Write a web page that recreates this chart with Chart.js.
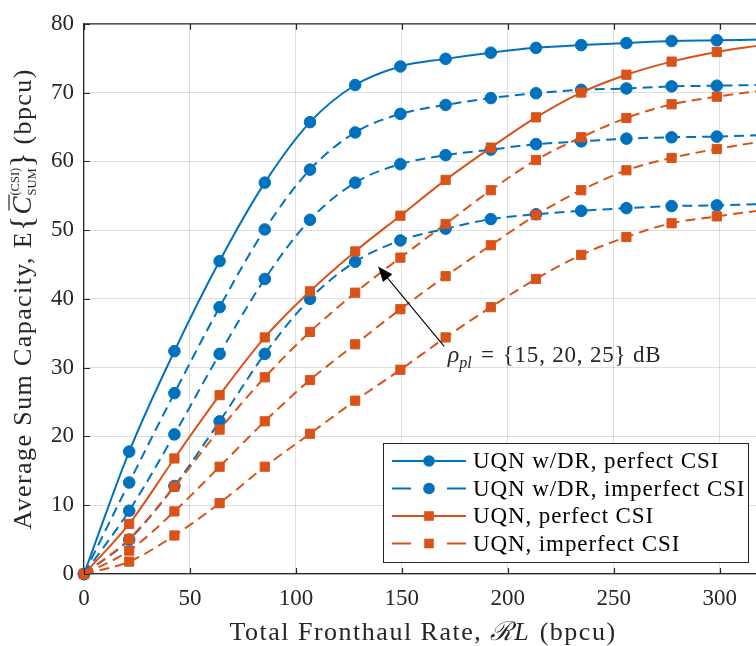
<!DOCTYPE html>
<html lang="en">
<head>
    <meta charset="UTF-8">
    <title>Average Sum Capacity vs Total Fronthaul Rate</title>
    <script src="https://cdn.jsdelivr.net/npm/chart.js"></script>
    <style>
        html, body { margin: 0; padding: 0; background: #fff; overflow: hidden; }
        #wrap { width: 756px; height: 646px; overflow: hidden; }
    </style>
</head>
<body>
    <div id="wrap">
        <canvas id="capacityChart" width="770" height="646"></canvas>
    </div>

    <script>
        // Total fronthaul rate RL (bpcu), one entry per marker
        const rates = [0, 21.33, 42.67, 64, 85.33, 106.67, 128, 149.33, 170.67, 192, 213.33, 234.67, 256, 277.33, 298.67, 320];
        const xTicks = [0, 50, 100, 150, 200, 250, 300];
        const yTicks = [0, 10, 20, 30, 40, 50, 60, 70, 80];

        // UQN w/DR
        const drPerfect     = [0, 17.8, 32.4, 45.5, 56.9, 65.7, 71.1, 73.8, 74.9, 75.8, 76.5, 76.9, 77.2, 77.5, 77.6, 77.7];
        const drImperfect15 = [0, 13.3, 26.3, 38.8, 50.1, 58.8, 64.2, 66.9, 68.2, 69.2, 69.9, 70.4, 70.6, 70.9, 71.0, 71.1];
        const drImperfect20 = [0, 9.2, 20.3, 32.0, 42.9, 51.5, 56.9, 59.6, 60.9, 61.7, 62.5, 62.9, 63.3, 63.5, 63.6, 63.8];
        const drImperfect25 = [0, 5.0, 12.8, 22.2, 32.0, 40.0, 45.4, 48.5, 50.2, 51.6, 52.3, 52.8, 53.2, 53.5, 53.6, 53.8];

        // UQN
        const uqnPerfect     = [0, 7.3, 16.8, 26.0, 34.4, 41.1, 46.9, 52.1, 57.3, 62.0, 66.4, 70.0, 72.6, 74.5, 75.9, 76.9];
        const uqnImperfect15 = [0, 5.1, 12.7, 21.0, 28.6, 35.2, 40.9, 46.0, 50.9, 55.8, 60.2, 63.5, 66.3, 68.3, 69.4, 70.3];
        const uqnImperfect20 = [0, 3.4, 9.1, 15.6, 22.2, 28.2, 33.4, 38.5, 43.3, 47.8, 52.2, 55.8, 58.7, 60.5, 61.8, 62.9];
        const uqnImperfect25 = [0, 1.8, 5.6, 10.3, 15.6, 20.4, 25.2, 29.7, 34.4, 38.8, 42.9, 46.4, 49.0, 51.0, 52.0, 52.9];

        const legendLabels = ['UQN w/DR, perfect CSI', 'UQN w/DR, imperfect CSI', 'UQN, perfect CSI', 'UQN, imperfect CSI'];
        const rhoValues = '{15, 20, 25} dB';

        const BLUE = '#0072BD';
        const ORANGE = '#D95319';
        const INK = '#262626';
        const SERIF = '"Liberation Serif", "Times New Roman", serif';
        const f = (size, style) => (style ? style + ' ' : '') + size + 'px ' + SERIF;

        function series(label, values, color, dashed, marker) {
            return {
                label: label,
                data: rates.map((x, i) => ({ x: x, y: values[i] })),
                borderColor: color,
                backgroundColor: color,
                borderWidth: 2,
                borderDash: dashed ? [10, 6] : [],
                pointStyle: marker,
                pointRadius: marker === 'circle' ? 5.8 : 6.5,
                pointBorderWidth: 1,
                pointBackgroundColor: color,
                pointBorderColor: color,
                cubicInterpolationMode: 'monotone',
                clip: false
            };
        }

        // orange first so it is drawn on top of the blue curves
        const datasets = [
            series(legendLabels[2], uqnPerfect, ORANGE, false, 'rect'),
            series(legendLabels[3], uqnImperfect15, ORANGE, true, 'rect'),
            series(legendLabels[3], uqnImperfect20, ORANGE, true, 'rect'),
            series(legendLabels[3], uqnImperfect25, ORANGE, true, 'rect'),
            series(legendLabels[0], drPerfect, BLUE, false, 'circle'),
            series(legendLabels[1], drImperfect15, BLUE, true, 'circle'),
            series(legendLabels[1], drImperfect20, BLUE, true, 'circle'),
            series(legendLabels[1], drImperfect25, BLUE, true, 'circle')
        ];

        // text made of runs with different fonts (for the math bits)
        function runWidth(ctx, r) {
            if (r.stack) return Math.max(...r.stack.map(s => runWidth(ctx, s)));
            ctx.font = r.font;
            ctx.letterSpacing = '0px';
            return ctx.measureText(r.text).width + (r.ls || 0) * r.text.length + (r.gap || 0);
        }

        function drawRuns(ctx, runs, x, y, align) {
            const widths = runs.map(r => runWidth(ctx, r));
            const total = widths.reduce((a, b) => a + b, 0);
            let cx = align === 'center' ? x - total / 2 : x;
            ctx.textAlign = 'left';
            ctx.textBaseline = 'alphabetic';
            runs.forEach((r, i) => {
                (r.stack || [r]).forEach(s => {
                    ctx.font = s.font;
                    ctx.letterSpacing = (s.ls || 0) + 'px';
                    ctx.fillText(s.text, cx + (s.dx || 0), y + (s.dy || 0));
                });
                if (r.bar) {
                    ctx.save();
                    ctx.strokeStyle = ctx.fillStyle;
                    ctx.lineWidth = 1.2;
                    ctx.beginPath();
                    ctx.moveTo(cx + 4, y - r.bar);
                    ctx.lineTo(cx + widths[i] + 1, y - r.bar);
                    ctx.stroke();
                    ctx.restore();
                }
                cx += widths[i];
            });
            ctx.letterSpacing = '0px';
        }

        function drawMarker(ctx, style, x, y, color) {
            ctx.fillStyle = color;
            ctx.beginPath();
            if (style === 'circle') ctx.arc(x, y, 5.8, 0, Math.PI * 2);
            else ctx.rect(x - 4.8, y - 4.8, 9.6, 9.6);
            ctx.fill();
        }

        const decorations = {
            id: 'decorations',
            afterDraw(chart) {
                const ctx = chart.ctx;
                const area = chart.chartArea;
                const xs = chart.scales.x;
                const ys = chart.scales.y;
                ctx.save();

                // box top edge and inward tick marks
                ctx.strokeStyle = INK;
                ctx.lineWidth = 1.2;
                ctx.beginPath();
                ctx.moveTo(area.left, area.top);
                ctx.lineTo(area.right, area.top);
                ctx.moveTo(area.right, area.top);
                ctx.lineTo(area.right, area.bottom);
                xTicks.forEach(v => {
                    const px = Math.round(xs.getPixelForValue(v)) + 0.5;
                    ctx.moveTo(px, area.bottom); ctx.lineTo(px, area.bottom - 6);
                    ctx.moveTo(px, area.top); ctx.lineTo(px, area.top + 6);
                });
                yTicks.forEach(v => {
                    const py = Math.round(ys.getPixelForValue(v)) + 0.5;
                    ctx.moveTo(area.left, py); ctx.lineTo(area.left + 6, py);
                });
                ctx.stroke();

                // annotation arrow
                const tail = [xs.getPixelForValue(170), ys.getPixelForValue(33.1)];
                const head = [xs.getPixelForValue(138.8), ys.getPixelForValue(44.7)];
                const ang = Math.atan2(head[1] - tail[1], head[0] - tail[0]);
                ctx.strokeStyle = '#000';
                ctx.fillStyle = '#000';
                ctx.lineWidth = 1.1;
                ctx.beginPath();
                ctx.moveTo(tail[0], tail[1]);
                ctx.lineTo(head[0] - 12 * Math.cos(ang), head[1] - 12 * Math.sin(ang));
                ctx.stroke();
                ctx.beginPath();
                ctx.moveTo(head[0], head[1]);
                ctx.lineTo(head[0] - 15 * Math.cos(ang) + 6 * Math.sin(ang), head[1] - 15 * Math.sin(ang) - 6 * Math.cos(ang));
                ctx.lineTo(head[0] - 15 * Math.cos(ang) - 6 * Math.sin(ang), head[1] - 15 * Math.sin(ang) + 6 * Math.cos(ang));
                ctx.closePath();
                ctx.fill();

                ctx.fillStyle = INK;
                drawRuns(ctx, [
                    { text: '\u03C1', font: f(24, 'italic') },
                    { text: 'pl', font: f(16, 'italic'), dy: 6, gap: 2 },
                    { text: ' = ', font: f(23), ls: 1.5 },
                    { text: rhoValues, font: f(23), ls: 0.8 }
                ], xs.getPixelForValue(171.7), ys.getPixelForValue(30.8), 'left');

                // x axis title
                drawRuns(ctx, [
                    { text: 'Total Fronthaul Rate, ', font: f(26), ls: 1.5 },
                    { text: '\u211B', font: f(26, 'italic'), gap: 1 },
                    { text: 'L', font: f(26, 'italic'), gap: 3 },
                    { text: ' (bpcu)', font: f(26), ls: 1.5 }
                ], (area.left + area.right) / 2, 640, 'center');

                // y axis title, rotated
                ctx.save();
                ctx.translate(31, (area.top + area.bottom) / 2);
                ctx.rotate(-Math.PI / 2);
                drawRuns(ctx, [
                    { text: 'Average Sum Capacity, E', font: f(26), ls: 1.4 },
                    { text: '{', font: f(32), dy: 2, gap: 1 },
                    { text: 'C', font: f(27, 'italic'), bar: 22, gap: 1 },
                    { stack: [
                        { text: '(CSI)', font: f(12.5), dy: -12 },
                        { text: 'SUM', font: f(12.5), dy: 5 }
                    ] },
                    { text: '}', font: f(32), dy: 2 },
                    { text: ' (bpcu)', font: f(26), ls: 1.4 }
                ], 0, 0, 'center');
                ctx.restore();

                // legend
                const bw = 365, bh = 119;
                const bx = area.right - 14 - bw;
                const by = area.bottom - 12 - bh;
                ctx.fillStyle = '#fff';
                ctx.fillRect(bx, by, bw, bh);
                ctx.strokeStyle = INK;
                ctx.lineWidth = 1;
                ctx.strokeRect(bx + 0.5, by + 0.5, bw, bh);
                const styles = [
                    { color: BLUE, dashed: false, marker: 'circle' },
                    { color: BLUE, dashed: true, marker: 'circle' },
                    { color: ORANGE, dashed: false, marker: 'rect' },
                    { color: ORANGE, dashed: true, marker: 'rect' }
                ];
                legendLabels.forEach((label, i) => {
                    const st = styles[i];
                    const ly = by + 18 + i * 27.5;
                    ctx.strokeStyle = st.color;
                    ctx.lineWidth = 2;
                    ctx.beginPath();
                    if (st.dashed) {
                        ctx.moveTo(bx + 9, ly); ctx.lineTo(bx + 28, ly);
                        ctx.moveTo(bx + 64, ly); ctx.lineTo(bx + 83, ly);
                    } else {
                        ctx.moveTo(bx + 9, ly); ctx.lineTo(bx + 83, ly);
                    }
                    ctx.stroke();
                    drawMarker(ctx, st.marker, bx + 46, ly, st.color);
                    ctx.fillStyle = '#000';
                    ctx.font = f(23);
                    ctx.letterSpacing = '0.9px';
                    ctx.textAlign = 'left';
                    ctx.textBaseline = 'middle';
                    ctx.fillText(label, bx + 90, ly + 1);
                    ctx.letterSpacing = '0px';
                });

                ctx.restore();
            }
        };

        new Chart(document.getElementById('capacityChart'), {
            type: 'line',
            data: { datasets: datasets },
            options: {
                responsive: false,
                animation: false,
                events: [],
                layout: { padding: { top: 12.2, right: 8, left: 0, bottom: 0 } },
                plugins: {
                    legend: { display: false },
                    tooltip: { enabled: false }
                },
                scales: {
                    x: {
                        type: 'linear',
                        min: 0,
                        max: 320,
                        afterFit: (s) => { s.height = 72; },
                        afterBuildTicks: (s) => { s.ticks = xTicks.map(v => ({ value: v })); },
                        ticks: {
                            padding: 11,
                            color: INK,
                            font: { family: SERIF, size: 23 }
                        },
                        grid: { color: 'rgba(38,38,38,0.15)', drawTicks: false, lineWidth: 1 },
                        border: { color: INK, width: 1.2 }
                    },
                    y: {
                        min: 0,
                        max: 80,
                        afterFit: (s) => { s.width = 84; },
                        afterBuildTicks: (s) => { s.ticks = yTicks.map(v => ({ value: v })); },
                        ticks: {
                            padding: 10,
                            color: INK,
                            font: { family: SERIF, size: 23 }
                        },
                        grid: { color: 'rgba(38,38,38,0.15)', drawTicks: false, lineWidth: 1 },
                        border: { color: INK, width: 1.2 }
                    }
                }
            },
            plugins: [decorations]
        });
    </script>
</body>
</html>
